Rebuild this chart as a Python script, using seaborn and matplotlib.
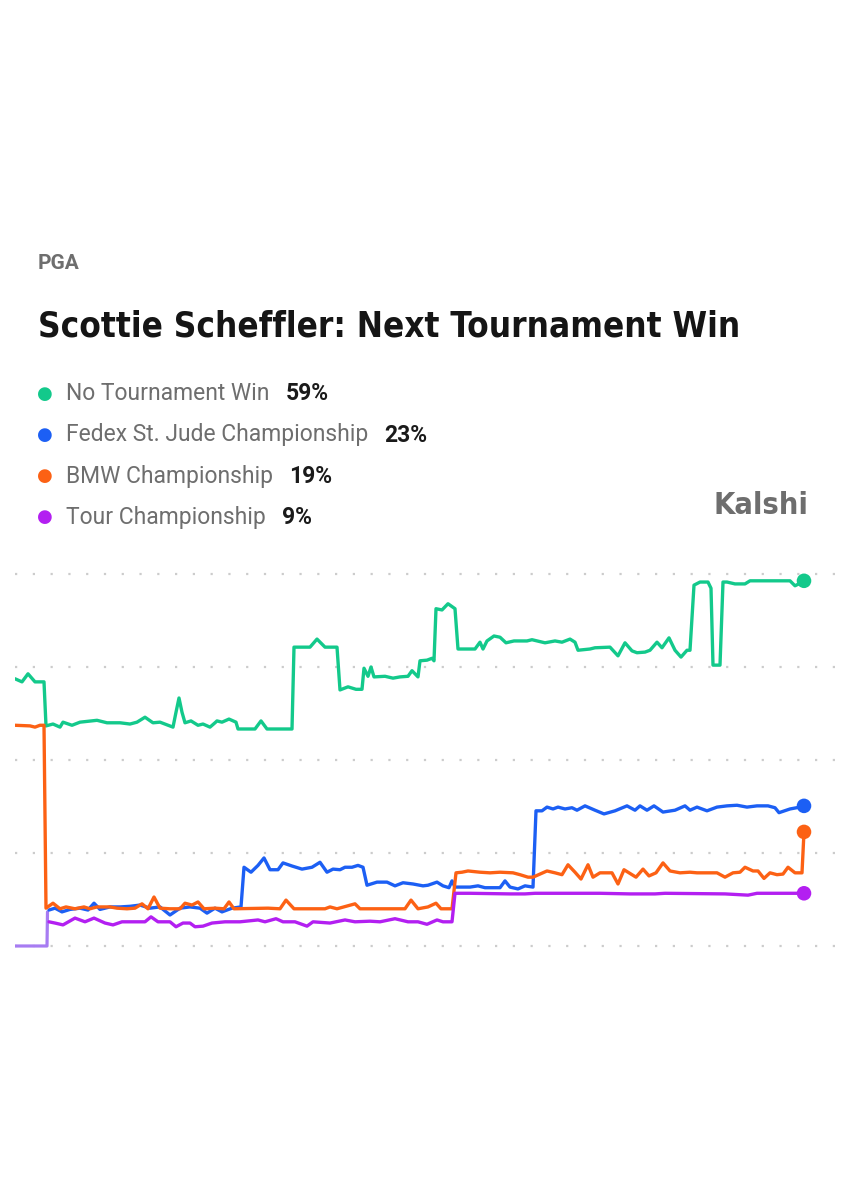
import pandas as pd
import matplotlib
matplotlib.use('Agg')
import matplotlib.pyplot as plt
import seaborn as sns

# Markets shown and their latest odds
markets = ['No Tournament Win', 'Fedex St. Jude Championship', 'BMW Championship', 'Tour Championship']
latest = ['59%', '23%', '19%', '9%']
colors = ['#13c98b', '#1c5ff4', '#fc6114', '#b31ff1']

# hours since the start of the chart, and chance in %
no_win_t = [0, 7, 13, 20, 29, 31, 38, 45, 48, 57, 65, 82, 92, 105, 115, 122, 130, 138, 145, 158,
            161, 164, 167, 170, 176, 183, 188, 195, 200, 202, 207, 214, 221, 223, 240, 246, 252, 277,
            279, 295, 302, 310, 322, 325, 333, 341, 347, 349, 353, 356, 359, 370, 378, 385, 393, 397,
            403, 405, 412, 417, 419, 421, 427, 433, 440, 443, 460, 465, 468, 472, 479, 485, 491, 499,
            512, 517, 530, 540, 547, 555, 560, 563, 575, 580, 595, 603, 610, 617, 622, 630, 635, 642,
            647, 654, 660, 666, 672, 675, 679, 685, 693, 696, 698, 705, 708, 712, 720, 730, 735, 775,
            780, 785, 789]
no_win_v = [43.1, 42.6, 43.9, 42.6, 42.6, 35.5, 35.8, 35.3, 36.1, 35.6, 36.1, 36.4, 36.0, 36.0, 35.8,
            36.1, 36.9, 36.0, 36.1, 35.3, 37.7, 40.0, 37.7, 36.0, 36.3, 35.6, 35.8, 35.3, 36.0, 36.3,
            36.1, 36.6, 36.1, 35.0, 35.0, 36.3, 35.0, 35.0, 48.2, 48.2, 49.5, 48.2, 48.2, 41.3, 41.8,
            41.4, 41.4, 44.8, 43.5, 45.0, 43.4, 43.5, 43.2, 43.4, 43.5, 44.4, 43.4, 46.0, 46.1, 46.4,
            46.0, 54.4, 54.2, 55.2, 54.4, 47.9, 47.9, 49.0, 47.9, 49.2, 50.0, 49.8, 48.9, 49.2, 49.2,
            49.4, 48.9, 49.2, 49.0, 49.5, 49.0, 47.7, 47.9, 48.1, 48.2, 46.8, 48.9, 47.6, 47.3, 47.4,
            47.7, 49.0, 48.1, 49.7, 47.7, 46.6, 47.7, 47.7, 58.2, 58.7, 58.7, 57.7, 45.3, 45.3, 58.7,
            58.7, 58.4, 58.4, 58.9, 58.9, 58.1, 58.5, 58.9]

fedex_t = [34, 40, 47, 55, 65, 73, 79, 85, 95, 105, 115, 125, 135, 145, 155, 165, 175, 185, 192, 200,
           207, 217, 226, 229, 236, 243, 249, 255, 263, 268, 277, 287, 297, 305, 312, 318, 325, 330,
           337, 343, 348, 352, 362, 372, 380, 388, 398, 408, 413, 422, 428, 434, 437, 440, 455, 463,
           470, 485, 490, 495, 503, 510, 518, 521, 527, 532, 538, 543, 550, 557, 562, 570, 580, 589,
           600, 612, 620, 625, 632, 639, 648, 660, 670, 675, 682, 692, 702, 712, 722, 732, 742, 753,
           760, 764, 775, 785, 789]
fedex_v = [5.8, 6.1, 5.5, 5.9, 6.1, 5.8, 6.9, 5.9, 6.3, 6.3, 6.4, 6.6, 6.1, 6.3, 5.0, 6.1, 6.3, 6.1,
           5.3, 6.1, 5.5, 6.1, 6.3, 12.7, 11.9, 13.0, 14.2, 12.3, 12.3, 13.4, 12.9, 12.4, 12.7, 13.5,
           11.9, 12.4, 12.3, 12.7, 12.7, 13.0, 12.7, 9.8, 10.3, 10.3, 9.7, 10.2, 10.0, 9.7, 9.8, 10.3,
           9.7, 9.4, 10.5, 9.5, 9.5, 9.7, 9.4, 9.4, 10.5, 9.5, 9.2, 9.7, 9.5, 21.8, 21.8, 22.4, 22.1,
           22.4, 22.1, 22.3, 21.9, 22.6, 21.9, 21.3, 21.8, 22.6, 21.9, 22.6, 21.9, 22.6, 21.6, 21.9,
           22.6, 21.9, 22.4, 21.8, 22.4, 22.6, 22.7, 22.4, 22.6, 22.6, 22.3, 21.5, 22.1, 22.4, 22.6]

bmw_t = [0, 15, 20, 25, 29, 31, 38, 45, 51, 60, 69, 75, 82, 95, 102, 112, 120, 127, 133, 139, 145,
         155, 165, 170, 177, 183, 189, 200, 209, 214, 219, 253, 265, 271, 279, 310, 315, 322, 340, 345,
         390, 396, 403, 413, 421, 426, 437, 441, 447, 453, 465, 475, 485, 498, 505, 513, 518, 525, 532,
         540, 547, 553, 560, 566, 573, 578, 585, 597, 603, 609, 617, 621, 628, 634, 641, 648, 655, 665,
         675, 682, 702, 710, 718, 725, 730, 738, 743, 749, 755, 762, 768, 773, 780, 787, 789]
bmw_v = [35.6, 35.5, 35.3, 35.6, 35.6, 6.1, 6.9, 6.0, 6.3, 6.0, 6.3, 6.0, 6.3, 6.3, 6.1, 6.0, 6.1,
         6.8, 6.0, 7.9, 6.1, 6.0, 6.0, 6.9, 6.6, 7.1, 6.0, 6.1, 6.0, 7.1, 6.0, 6.1, 6.0, 7.4, 6.0,
         6.0, 6.3, 6.0, 6.8, 6.0, 6.0, 7.4, 6.0, 6.3, 6.9, 6.0, 6.0, 11.8, 11.9, 12.1, 11.9, 11.8,
         11.9, 11.8, 11.5, 11.1, 11.1, 11.6, 12.1, 11.8, 11.5, 13.1, 11.9, 10.8, 13.1, 11.1, 11.8,
         11.8, 10.0, 12.3, 11.5, 11.1, 12.4, 11.3, 11.8, 13.4, 12.1, 11.8, 11.9, 11.8, 11.8, 11.1,
         11.8, 11.9, 12.7, 12.1, 12.1, 10.9, 11.8, 11.5, 11.6, 12.7, 11.8, 11.8, 18.4]

# before the market opened the line sits at zero (drawn lighter)
tour_pre_t = [0, 32, 32.5]
tour_pre_v = [0, 0, 5.5]
tour_t = [34, 40, 48, 60, 70, 79, 90, 98, 107, 130, 136, 143, 155, 161, 168, 175, 180, 188, 197,
          210, 225, 243, 250, 261, 268, 280, 292, 298, 315, 330, 340, 355, 365, 380, 393, 403, 412,
          422, 428, 437, 440, 455, 495, 510, 520, 585, 615, 640, 650, 710, 733, 742, 789]
tour_v = [3.9, 3.7, 3.4, 4.5, 3.9, 4.5, 3.7, 3.4, 3.9, 3.9, 4.7, 3.9, 3.9, 3.1, 3.7, 3.7, 3.1, 3.2,
          3.7, 3.9, 3.9, 4.2, 3.9, 4.4, 3.9, 3.9, 3.2, 3.9, 3.7, 4.2, 3.9, 4.0, 3.9, 4.4, 3.9, 3.9,
          3.5, 4.2, 3.9, 3.9, 8.5, 8.5, 8.4, 8.4, 8.5, 8.5, 8.4, 8.4, 8.5, 8.4, 8.2, 8.5, 8.5]

series_t = [no_win_t, fedex_t, bmw_t, tour_t]
series_v = [no_win_v, fedex_v, bmw_v, tour_v]

frames = []
for name, t, v in zip(markets, series_t, series_v):
    frames.append(pd.DataFrame({'hour': t, 'chance': v, 'market': name}))
df = pd.concat(frames, ignore_index=True)

sns.set_theme(style='white')
plt.rcParams['font.family'] = ['Roboto', 'DejaVu Sans']

W, H = 857, 1200
fig = plt.figure(figsize=(W / 100, H / 100), dpi=100)
fig.patch.set_facecolor('white')

def fx(x):
    return x / W

def fy(y):
    return 1 - y / H

ax = fig.add_axes([fx(15), fy(960), 825 / W, 395 / H])
ax.set_facecolor('white')

# lighter lead-in for the tour line
sns.lineplot(x=tour_pre_t, y=tour_pre_v, color='#a77cf2', linewidth=2.3, ax=ax,
             estimator=None, sort=False)
sns.lineplot(data=df, x='hour', y='chance', hue='market', palette=dict(zip(markets, colors)),
             hue_order=markets, linewidth=2.4, estimator=None, sort=False, legend=False, ax=ax)

# end dots
for t, v, c in zip(series_t, series_v, colors):
    ax.scatter([t[-1]], [v[-1]], s=110, color=c, zorder=5, edgecolor='none')

ax.set_xlim(0, 825)
ax.set_ylim(-2.26, 61.45)
ax.set_yticks([0, 15, 30, 45, 60])
ax.set_xticks([])
ax.yaxis.grid(True, color='#cccccc', linestyle=(0, (1, 7)), linewidth=1.6)
ax.set_axisbelow(True)
ax.tick_params(left=False, labelleft=False)
ax.set_xlabel('')
ax.set_ylabel('')
for s in ax.spines.values():
    s.set_visible(False)

renderer = fig.canvas.get_renderer()

# header
fig.text(fx(38), fy(263), 'PGA', fontsize=15, fontweight='bold', color='#6e6e6e', va='center')
title = fig.text(fx(38), fy(337), 'Scottie Scheffler: Next Tournament Win', fontsize=37,
                 fontweight='bold', fontstretch='condensed', color='#151515', va='baseline',
                 family='DejaVu Sans')
tw = title.get_window_extent(renderer).width
title.set_fontsize(37 * 702 / tw)

# legend
rows = [394, 435, 476, 517]
for name, val, c, y in zip(markets, latest, colors, rows):
    fig.text(fx(45), fy(y), '\u25CF', fontsize=13, color=c, va='center', ha='center')
    lab = fig.text(fx(66), fy(y), name, fontsize=16.5, color='#6e6e6e', va='center')
    ext = lab.get_window_extent(renderer)
    fig.text(fx(ext.x1 + 16), fy(y), val, fontsize=16.5, fontweight='bold', color='#1a1a1a',
             va='center')

kal = fig.text(fx(808), fy(506), 'Kalshi', fontsize=24, fontweight='bold', color='#6e6e6e',
               va='center', ha='right', fontstretch='condensed', family='DejaVu Sans')
kw = kal.get_window_extent(renderer).width
kal.set_fontsize(24 * 95 / kw)

fig.savefig('out.png', dpi=100, facecolor='white')
